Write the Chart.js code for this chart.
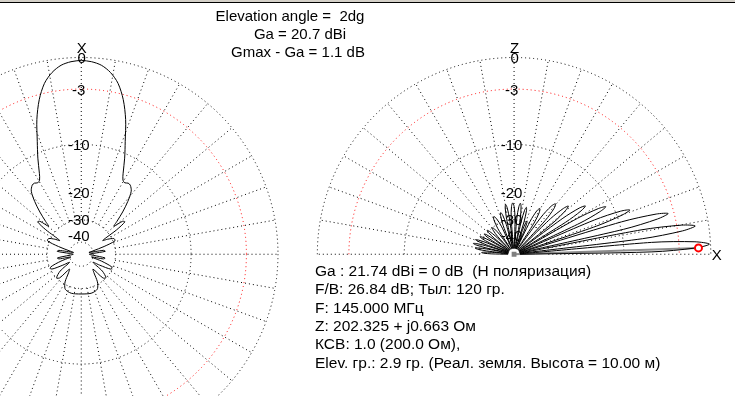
<!DOCTYPE html>
<html>
<head>
<meta charset="utf-8">
<script src="https://cdn.jsdelivr.net/npm/chart.js@4.4.1/dist/chart.umd.min.js"></script>
<style>
html,body{margin:0;padding:0;background:#fff;overflow:hidden}
#wrap{width:735px;height:396px}
</style>
</head>
<body>
<div id="wrap"><canvas id="c" width="735" height="396"></canvas></div>
<script>
// azimuth cut (elevation 2 dg), half pattern: deg clockwise from X, dB rel. max
const azDeg=[0,3,6,9,12,15,18,21,24,27,29,31,33,35,38,41,44,47,49,51,53,55,57,60,64,68,71,74,77,80,83,86,90,95,99,102,105,109,113,117,121,125,129,134,138,142,146,150,155,160,166,172,180];
const azDb=[0,-0.1,-0.35,-0.9,-1.8,-3.3,-5.4,-8.1,-10.5,-13,-14.2,-14.5,-14.2,-14.3,-15.2,-17.5,-20.5,-24,-26,-22.5,-22,-26,-35,-32,-29,-29,-36,-48,-55,-37,-36,-48,-55,-48,-36,-37,-50,-38,-30.5,-30.5,-38,-45,-34,-30,-31,-40,-37,-31,-28,-27.3,-27,-27.1,-27.2];

// elevation cut: deg from X (horizon) over Z to -X, dB rel. max
const elevDeg=[
0,1,2,3,4,5,6,
7,8,9,10,11,12,
13,14,15,16,17,18,
19.1,20.2,21.2,22.3,23.4,24.5,
25.6,26.7,27.7,28.8,29.9,31,
32.2,33.3,34.5,35.7,36.8,38,
39.3,40.7,42,43.3,44.7,46,
47.7,49.3,51,52.7,54.3,56,
57.7,59.3,61,62.7,64.3,66,
67,68,69,70,71,72,
73.2,74.3,75.5,76.7,77.8,79,
80.3,81.7,83,84.3,85.7,87,
88.5,90,91.5,93,94.5,96,
97.2,98.3,99.5,100.7,101.8,103,
104.5,106,107.5,109,110.5,112,
114,116,118,120,122,124,
125.7,127.3,129,130.7,132.3,134,
135.3,136.7,138,139.3,140.7,142,
143.2,144.3,145.5,146.7,147.8,149,
150.2,151.3,152.5,153.7,154.8,156,
157,158,159,160,161,162,
163,164,165,166,167,168,
169,170,171,172,173,174,
175,176,177,178,179,180];
const elevDb=[
-60,-6.1,-1.4,-0.1,-1.4,-6.1,-60,
-7.2,-2.5,-1.2,-2.5,-7.2,-60,
-9.6,-4.9,-3.6,-4.9,-9.6,-60,
-13.9,-9.2,-7.9,-9.2,-13.9,-60,
-17,-12.3,-11,-12.3,-17,-60,
-20.1,-15.4,-14.1,-15.4,-20.1,-60,
-23,-18.3,-17,-18.3,-23,-60,
-24.8,-20,-18.8,-20,-24.8,-60,
-28.5,-23.7,-22.5,-23.7,-28.5,-60,
-35,-30.2,-29,-30.2,-35,-60,
-29.8,-25,-23.8,-25,-29.8,-60,
-28.8,-24,-22.8,-24,-28.8,-60,
-28.8,-24,-22.8,-24,-28.8,-60,
-29.1,-24.3,-23.1,-24.3,-29.1,-60,
-31.6,-26.8,-25.6,-26.8,-31.6,-60,
-32,-27.2,-26,-27.2,-32,-60,
-35.9,-31.1,-29.9,-31.1,-35.9,-60,
-35,-30.2,-29,-30.2,-35,-60,
-35,-30.2,-29,-30.2,-35,-60,
-34,-29.2,-28,-29.2,-34,-60,
-32.8,-28,-26.8,-28,-32.8,-60,
-32.4,-27.6,-26.4,-27.6,-32.4,-60,
-33.6,-28.8,-27.6,-28.8,-33.6,-60,
-36.9,-32.1,-30.9,-32.1,-36.9,-60];

const gridDb=[0,-3,-10,-30,-48];
const tickDb=[0,-3,-10,-20,-30,-40];
const tickText=['0','-3','-10','-20','-30','-40'];
const cutElev=2, cutDb=-1.1;   // red marker: azimuth cut elevation
const headLines=['Elevation angle =  2dg','Ga = 20.7 dBi','Gmax - Ga = 1.1 dB'];
const infoLines=['Ga : 21.74 dBi = 0 dB  (H поляризация)','F/B: 26.84 dB; Тыл: 120 гр.','F: 145.000 МГц','Z: 202.325 + j0.663 Ом','КСВ: 1.0 (200.0 Ом),','Elev. гр.: 2.9 гр. (Реал. земля. Высота = 10.00 м)'];

// plot frames (in chart units)
const AZ={cx:76.5,cy:256,R:200};
const EL={cx:516.5,cy:256,R:200};
const FONT='15px "Liberation Sans", Arial, sans-serif';
const INFO_FONT='15.5px "Liberation Sans", Arial, sans-serif';

// ARRL-like log scale: 0.89 radius factor per 2 dB
function rad(p,db){ return p.R*Math.pow(0.89,-Math.max(db,-60)/2); }

function azPoint(a,db,side){
  const r=rad(AZ,db), t=a*Math.PI/180;
  return {x:AZ.cx+side*r*Math.sin(t), y:AZ.cy-r*Math.cos(t)};
}
function elPoint(a,db){
  const r=rad(EL,db), t=a*Math.PI/180;
  return {x:EL.cx+r*Math.cos(t), y:EL.cy-r*Math.sin(t)};
}

const azPts=azDeg.map((a,i)=>azPoint(a,azDb[i],1));
for(let i=azDeg.length-2;i>=0;i--) azPts.push(azPoint(azDeg[i],azDb[i],-1));
const elPts=elevDeg.map((a,i)=>elPoint(a,elevDb[i]));
const markPt=elPoint(cutElev,cutDb);
const centerPt={x:EL.cx,y:EL.cy};

const polarGrid={
  id:'polarGrid',
  beforeDatasetsDraw(chart){
    const {ctx,scales:{x,y}}=chart;
    ctx.save();
    ctx.fillStyle='#d4d0c8'; ctx.fillRect(0,0,chart.width,2);
    ctx.fillStyle='#000'; ctx.fillRect(0,2,chart.width,1);
    [[AZ,true],[EL,false]].forEach(([p,full])=>{
      const X=x.getPixelForValue(p.cx), Y=y.getPixelForValue(p.cy);
      const k=x.getPixelForValue(p.cx+1)-X;
      ctx.lineWidth=1; ctx.setLineDash([1,3]);
      gridDb.forEach(db=>{
        ctx.strokeStyle=db===-3?'#ff0000':'#000';
        ctx.beginPath();
        ctx.arc(X,Y,rad(p,db)*k,full?0:Math.PI,2*Math.PI);
        ctx.stroke();
      });
      ctx.strokeStyle='#000';
      const r0=rad(p,-30)*k, r1=p.R*k;
      for(let a=0;a<=(full?350:180);a+=10){
        const t=a*Math.PI/180;
        const dx=full?Math.sin(t):Math.cos(t), dy=full?-Math.cos(t):-Math.sin(t);
        ctx.beginPath();
        ctx.moveTo(X+dx*r0,Y+dy*r0); ctx.lineTo(X+dx*r1,Y+dy*r1);
        ctx.stroke();
      }
      ctx.setLineDash([]);
      ctx.fillStyle='#000'; ctx.font=FONT; ctx.textAlign='center'; ctx.textBaseline='alphabetic';
      tickDb.forEach((db,i)=>{
        const ty=Y-rad(p,db)*k;
        ctx.fillText(tickText[i],X+(db<0?-2.5:0.5),ty+5.5);
      });
      ctx.fillText(full?'X':'Z',X+0.5,Y-p.R*k-4.5);
      if(!full) ctx.fillText('X',X+206*k,Y+6);
    });
    ctx.restore();
  },
  afterDraw(chart){
    const {ctx}=chart;
    ctx.save();
    ctx.fillStyle='#000'; ctx.font=FONT; ctx.textBaseline='alphabetic';
    ctx.textAlign='center';
    ctx.fillText(headLines[0],290,20.5);
    ctx.fillText(headLines[1],300,38.5);
    ctx.fillText(headLines[2],298,56.5);
    ctx.textAlign='left'; ctx.font=INFO_FONT;
    infoLines.forEach((s,i)=>ctx.fillText(s,315,276+i*18.3));
    ctx.restore();
  }
};

new Chart(document.getElementById('c'),{
  type:'scatter',
  data:{datasets:[
    {data:[markPt],order:0,pointRadius:3.5,pointBorderWidth:2,pointBorderColor:'#ff0000',pointBackgroundColor:'#fff',showLine:false},
    {data:azPts,order:1,showLine:true,borderColor:'#000',borderWidth:1,pointRadius:0,tension:0.3,fill:false},
    {data:elPts,order:1,showLine:true,borderColor:'#000',borderWidth:1,pointRadius:0,tension:0.3,fill:false},
    {data:[centerPt,markPt],order:2,showLine:true,borderColor:'#8c8c8c',borderWidth:2,pointRadius:[2,0],pointStyle:'rect',pointBackgroundColor:'#808080',pointBorderColor:'#808080'}
  ]},
  options:{
    responsive:false,animation:false,events:[],
    layout:{padding:0},
    scales:{
      x:{type:'linear',min:0,max:735,display:false},
      y:{type:'linear',min:0,max:396,reverse:true,display:false}
    },
    plugins:{legend:{display:false},tooltip:{enabled:false}}
  },
  plugins:[polarGrid]
});
</script>
</body>
</html>
